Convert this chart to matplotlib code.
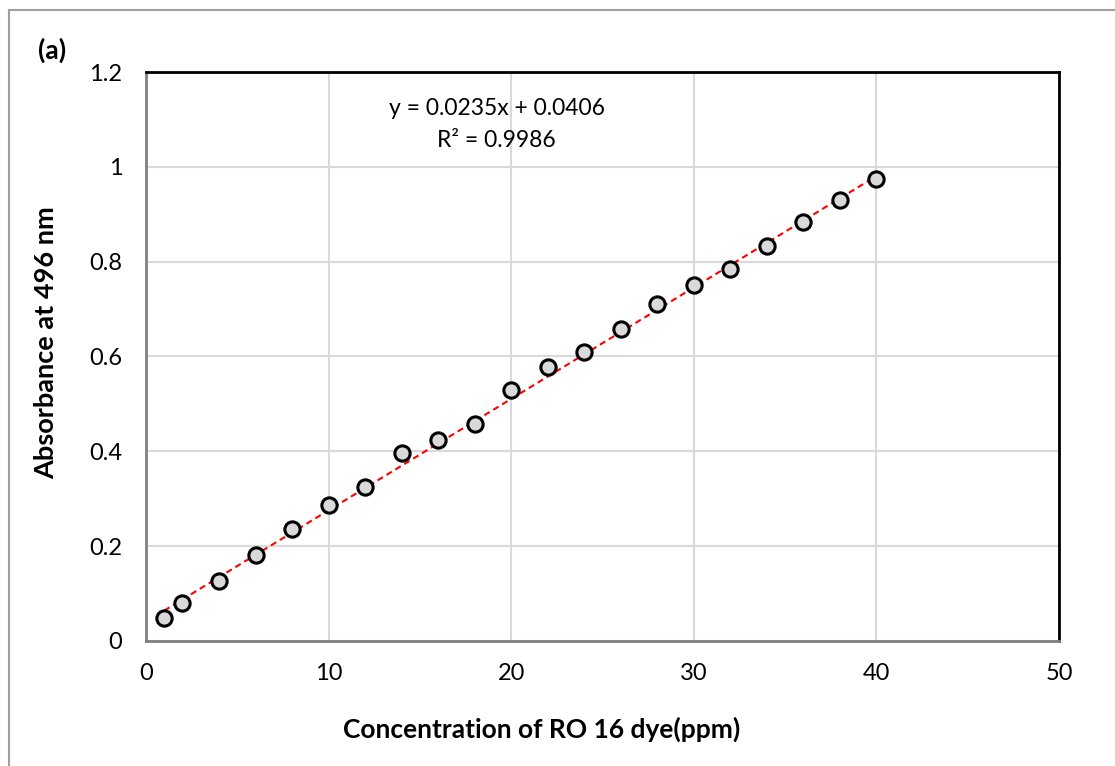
"""Calibration curve for RO 16 dye absorbance at 496 nm."""

import matplotlib

matplotlib.use("Agg")

import matplotlib.pyplot as plt
import numpy as np
from matplotlib.lines import Line2D

plt.rcParams["font.family"] = ["Lato", "DejaVu Sans"]

conc_ppm = [1, 2, 4, 6, 8, 10, 12, 14, 16, 18, 20, 22, 24, 26, 28, 30, 32, 34, 36, 38, 40]
absorbance = [
    0.048, 0.080, 0.127, 0.181, 0.236, 0.286, 0.324, 0.396, 0.423, 0.458, 0.530,
    0.578, 0.610, 0.658, 0.711, 0.751, 0.784, 0.833, 0.884, 0.930, 0.974,
]
slope = 0.0235
intercept = 0.0406
r_squared = 0.9986

fig = plt.figure(figsize=(11.15, 7.66), dpi=100)
ax = fig.add_axes([0.1309, 0.1632, 0.8189, 0.7428])

# outer chart frame (only top/left visible in the crop)
fig.add_artist(Line2D([9 / 1115, 1.0], [1 - 10 / 766, 1 - 10 / 766],
                      transform=fig.transFigure, color="#a0a0a0", linewidth=1.5))
fig.add_artist(Line2D([9 / 1115, 9 / 1115], [0.0, 1 - 10 / 766],
                      transform=fig.transFigure, color="#a0a0a0", linewidth=1.5))

ax.set_xlim(0, 50)
ax.set_ylim(0, 1.2)
ax.set_xticks(np.arange(0, 51, 10))
ax.set_yticks(np.arange(0, 1.21, 0.2))
ax.set_yticklabels(["0", "0.2", "0.4", "0.6", "0.8", "1", "1.2"])
ax.grid(True, color="#d9d9d9", linewidth=1.5)
ax.set_axisbelow(True)
ax.tick_params(length=0, labelsize=17, colors="black")
ax.tick_params(axis="y", pad=17)
ax.tick_params(axis="x", pad=16)

for side in ("left", "bottom"):
    ax.spines[side].set_color("#808080")
    ax.spines[side].set_linewidth(2)
for side in ("top", "right"):
    ax.spines[side].set_color("black")
    ax.spines[side].set_linewidth(2)

xfit = np.array([conc_ppm[0], conc_ppm[-1]])
ax.plot(xfit, slope * xfit + intercept, color="#ff0000", linestyle=(0, (3, 2)),
        linewidth=1.5, zorder=2)
ax.plot(conc_ppm, absorbance, linestyle="none", marker="o", markersize=11,
        markerfacecolor="#d9d9d9", markeredgecolor="black", markeredgewidth=2.2, zorder=3)

ax.text(19.2, 1.124, f"y = {slope}x + {intercept}", ha="center", va="center", fontsize=16.5)
ax.text(19.2, 1.056, f"R² = {r_squared}", ha="center", va="center", fontsize=16.5)

ax.set_xlabel("Concentration of RO 16 dye(ppm)", fontsize=19, fontweight="bold")
ax.set_ylabel("Absorbance at 496 nm", fontsize=19.5, fontweight="bold")
ax.xaxis.set_label_coords(0.433, -0.133)
ax.yaxis.set_label_coords(-0.096, 0.525)

fig.text(38 / 1115, 1 - 50 / 766, "(a)", fontsize=19, fontweight="bold", ha="left", va="center")

fig.savefig("out.png", dpi=100)
